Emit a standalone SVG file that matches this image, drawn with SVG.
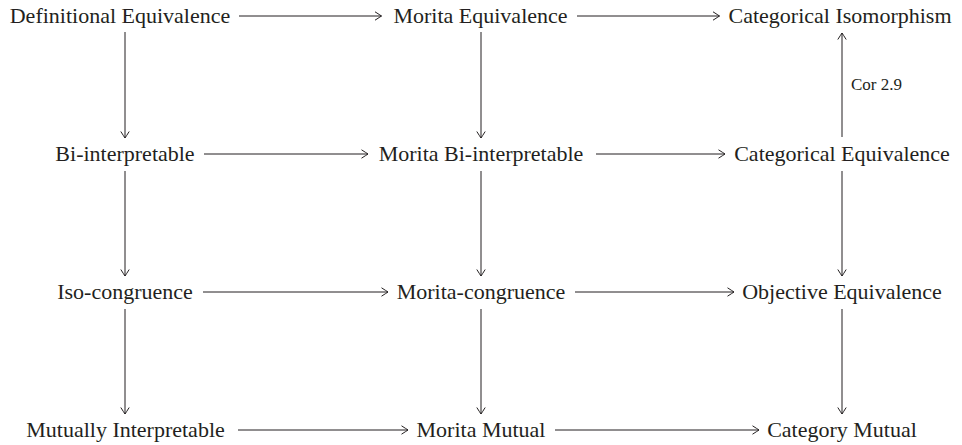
<svg xmlns="http://www.w3.org/2000/svg" width="962" height="445" viewBox="0 0 962 445">
<style>
text{font-family:"Liberation Serif","Times New Roman",serif;font-size:22px;fill:#231f20;text-anchor:middle}
text.lbl{font-family:"Liberation Serif","Times New Roman",serif;font-size:17px;text-anchor:start}
.c line{stroke:#231f20;stroke-width:1;fill:none;marker-end:url(#ah)}
</style>
<defs>
<marker id="ah" markerUnits="userSpaceOnUse" markerWidth="12" markerHeight="12" viewBox="-8 -6 10 12" refX="0" refY="0" orient="auto">
<path d="M-6.5,-4.2 Q-1.5,-1 0,0 Q-1.5,1 -6.5,4.2" fill="none" stroke="#231f20" stroke-width="1"/>
</marker>
</defs>
<rect width="962" height="445" fill="#fff"/>
<g id="n-def"><text x="120" y="23">Definitional Equivalence</text></g>
<g id="n-morita-eq"><text x="480.5" y="23">Morita Equivalence</text></g>
<g id="n-cat-iso"><text x="840" y="23">Categorical Isomorphism</text></g>
<g id="n-bi"><text x="125" y="161">Bi-interpretable</text></g>
<g id="n-morita-bi"><text x="481" y="161">Morita Bi-interpretable</text></g>
<g id="n-cat-eq"><text x="842" y="161">Categorical Equivalence</text></g>
<g id="n-iso"><text x="125" y="299">Iso-congruence</text></g>
<g id="n-morita-cong"><text x="481" y="299">Morita-congruence</text></g>
<g id="n-obj"><text x="842" y="299">Objective Equivalence</text></g>
<g id="n-mut"><text x="125.5" y="437">Mutually Interpretable</text></g>
<g id="n-morita-mut"><text x="481" y="437">Morita Mutual</text></g>
<g id="n-cat-mut"><text x="842" y="437">Category Mutual</text></g>
<g id="connectors" class="c">
<line x1="239" y1="16" x2="381.5" y2="16"/>
<line x1="577" y1="16" x2="719.5" y2="16"/>
<line x1="204" y1="154" x2="368" y2="154"/>
<line x1="596" y1="154" x2="725" y2="154"/>
<line x1="203" y1="292" x2="388" y2="292"/>
<line x1="575" y1="292" x2="734" y2="292"/>
<line x1="238" y1="430" x2="408" y2="430"/>
<line x1="555" y1="430" x2="759" y2="430"/>
<line x1="125" y1="32" x2="125" y2="138"/>
<line x1="125" y1="171" x2="125" y2="276"/>
<line x1="125" y1="309" x2="125" y2="414"/>
<line x1="481" y1="32" x2="481" y2="138"/>
<line x1="481" y1="171" x2="481" y2="276"/>
<line x1="481" y1="309" x2="481" y2="414"/>
<line x1="842" y1="137" x2="842" y2="33"/>
<line x1="842" y1="171" x2="842" y2="276"/>
<line x1="842" y1="309" x2="842" y2="414"/>
</g>
<g id="lbl-cor"><text class="lbl" x="851" y="90">Cor 2.9</text></g>
</svg>
